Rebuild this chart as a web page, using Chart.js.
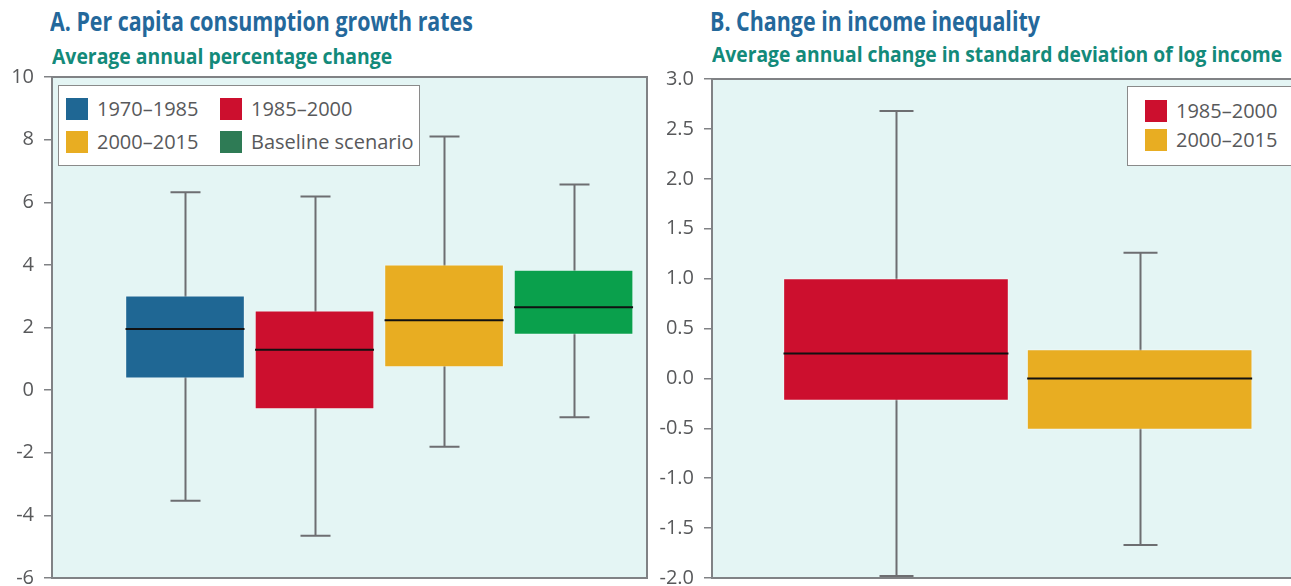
<!DOCTYPE html>
<html>
<head>
<meta charset="utf-8">
<script src="https://cdn.jsdelivr.net/npm/chart.js@4.4.1/dist/chart.umd.min.js"></script>
<style>
  html, body { margin: 0; padding: 0; width: 1291px; height: 586px; overflow: hidden; background: #fff; }
  body { position: relative; font-family: 'Open Sans', sans-serif; }
  canvas { position: absolute; top: 0; }
  .title { position: absolute; white-space: nowrap; font-weight: 700; line-height: 1; transform-origin: 0 0; }
  .t1 { color: #24689b; font-size: 26px; }
  .t2 { color: #138a7a; font-size: 21px; }
  .legend { position: absolute; background: #fff; border: 1.5px solid #8a8a8a; box-sizing: border-box; }
  .item { position: absolute; font-size: 20px; color: #58595b; white-space: nowrap; line-height: 22px; padding-left: 31px; }
  .item i { position: absolute; left: 0; top: 0; width: 22px; height: 22px; }
</style>
</head>
<body>

<div class="title t1" style="left:50px; top:8px" data-w="423">A. Per capita consumption growth rates</div>
<div class="title t2" style="left:52px; top:46px" data-w="340">Average annual percentage change</div>
<div class="title t1" style="left:710px; top:8px" data-w="330">B. Change in income inequality</div>
<div class="title t2" style="left:712px; top:44px" data-w="570">Average annual change in standard deviation of log income</div>

<canvas id="growth" width="660" height="600" style="left:0"></canvas>
<canvas id="inequality" width="660" height="600" style="left:660px"></canvas>

<div id="legendA" class="legend" style="left:58px; top:85px; width:362px; height:81px"></div>
<div id="legendB" class="legend" style="left:1127px; top:86px; width:190px; height:80px"></div>

<script>
// Panel A: per capita consumption growth, % per year
const periodsA = ['1970–1985', '1985–2000', '2000–2015', 'Baseline scenario'];
const minA = [-3.53, -4.65, -1.81, -0.87];
const q1A = [0.38, -0.60, 0.74, 1.78];
const medA = [1.95, 1.29, 2.23, 2.65];
const q3A = [3.01, 2.53, 4.00, 3.83];
const maxA = [6.32, 6.18, 8.10, 6.57];

// Panel B: change in std. deviation of log income
const periodsB = ['1985–2000', '2000–2015'];
const minB = [-1.98, -1.67];
const q1B = [-0.22, -0.51];
const medB = [0.25, 0.00];
const q3B = [1.00, 0.29];
const maxB = [2.68, 1.26];

const BLUE = '#1f6794', RED = '#cc0f2e', GOLD = '#e8ad22', GREEN = '#0aa04c';
const colorsA = [BLUE, RED, GOLD, GREEN];
const legendColorsA = [BLUE, RED, GOLD, '#2e7b55'];
const colorsB = [RED, GOLD];

Chart.defaults.font.family = "'Open Sans', sans-serif";

// background, whiskers, medians and frame around the plot area
const boxParts = {
  id: 'boxParts',
  beforeDraw(chart) {
    const { ctx, chartArea: a } = chart;
    ctx.save();
    ctx.fillStyle = '#e4f5f4';
    ctx.fillRect(a.left, a.top, a.right - a.left, a.bottom - a.top);
    ctx.restore();
  },
  beforeDatasetsDraw(chart, args, opts) {
    const { ctx } = chart;
    const xs = chart.scales.x, ys = chart.scales.y;
    ctx.save();
    ctx.strokeStyle = '#6d6e71';
    ctx.lineWidth = 2;
    opts.min.forEach((lo, i) => {
      const x = Math.round(xs.getPixelForValue(i + 1)) + 0.5;
      const yTop = ys.getPixelForValue(opts.max[i]);
      const yBot = ys.getPixelForValue(lo);
      ctx.beginPath();
      ctx.moveTo(x, yTop);
      ctx.lineTo(x, yBot);
      ctx.moveTo(x - opts.cap, yTop);
      ctx.lineTo(x + opts.cap, yTop);
      ctx.moveTo(x - opts.cap, yBot);
      ctx.lineTo(x + opts.cap, yBot);
      ctx.stroke();
    });
    ctx.restore();
  },
  afterDatasetsDraw(chart, args, opts) {
    const { ctx, chartArea: a } = chart;
    const ys = chart.scales.y;
    const bars = chart.getDatasetMeta(0).data;
    ctx.save();
    ctx.strokeStyle = '#111';
    ctx.lineWidth = 2;
    opts.median.forEach((m, i) => {
      const el = bars[i];
      const y = ys.getPixelForValue(m);
      ctx.beginPath();
      ctx.moveTo(el.x - el.width / 2, y);
      ctx.lineTo(el.x + el.width / 2, y);
      ctx.stroke();
    });
    ctx.strokeStyle = '#808285';
    ctx.lineWidth = 2;
    ctx.strokeRect(a.left, a.top, a.right - a.left, a.bottom - a.top);
    ctx.restore();
  }
};

function boxChart(id, o) {
  return new Chart(document.getElementById(id), {
    type: 'bar',
    data: {
      datasets: [{
        data: o.q1.map((v, i) => ({ x: i + 1, y: [v, o.q3[i]] })),
        backgroundColor: o.colors,
        borderColor: 'rgba(255,255,255,0.35)',
        borderWidth: 1,
        borderSkipped: false,
        barThickness: o.barWidth
      }]
    },
    options: {
      responsive: false,
      animation: false,
      events: [],
      layout: { padding: o.padding },
      plugins: {
        legend: { display: false },
        tooltip: { enabled: false },
        boxParts: { min: o.min, max: o.max, median: o.median, cap: o.cap }
      },
      scales: {
        x: { type: 'linear', display: false, min: o.xMin, max: o.xMax, offset: false },
        y: {
          min: o.yMin, max: o.yMax,
          border: { display: true, color: '#808285', width: 2 },
          grid: { drawOnChartArea: false, drawTicks: true, tickLength: 8, tickColor: '#808285', lineWidth: 1.5 },
          ticks: {
            stepSize: o.step, padding: 10, color: '#58595b',
            font: { size: 20 },
            callback: o.fmt
          },
          afterFit(scale) { scale.width = o.axisWidth; }
        }
      }
    },
    plugins: [boxParts]
  });
}

boxChart('growth', {
  q1: q1A, q3: q3A, min: minA, max: maxA, median: medA, colors: colorsA,
  barWidth: 119, cap: 15, xMin: -0.027, xMax: 4.567,
  yMin: -6, yMax: 10, step: 2, fmt: v => String(v),
  axisWidth: 52, padding: { top: 77, right: 13, bottom: 22, left: 0 }
});

boxChart('inequality', {
  q1: q1B, q3: q3B, min: minB, max: maxB, median: medB, colors: colorsB,
  barWidth: 225, cap: 17, xMin: 0.245, xMax: 2.658,
  yMin: -2, yMax: 3, step: 0.5, fmt: v => v.toFixed(1),
  axisWidth: 52, padding: { top: 79, right: 20, bottom: 20, left: 0 }
});

// legends inside the plot areas
function legend(id, labels, colors, spots) {
  const box = document.getElementById(id);
  labels.forEach((lab, i) => {
    const d = document.createElement('div');
    d.className = 'item';
    d.style.left = spots[i][0] + 'px';
    d.style.top = spots[i][1] + 'px';
    d.innerHTML = '<i style="background:' + colors[i] + '"></i>' + lab;
    box.appendChild(d);
  });
}
legend('legendA', periodsA, legendColorsA, [[7, 12], [161, 12], [7, 45], [161, 45]]);
legend('legendB', periodsB, colorsB, [[17, 13], [17, 42]]);

// squeeze the headings to their set widths
document.querySelectorAll('.title').forEach(t => {
  const w = t.getBoundingClientRect().width;
  t.style.transform = 'scaleX(' + (Number(t.dataset.w) / w).toFixed(3) + ')';
});
</script>
</body>
</html>
